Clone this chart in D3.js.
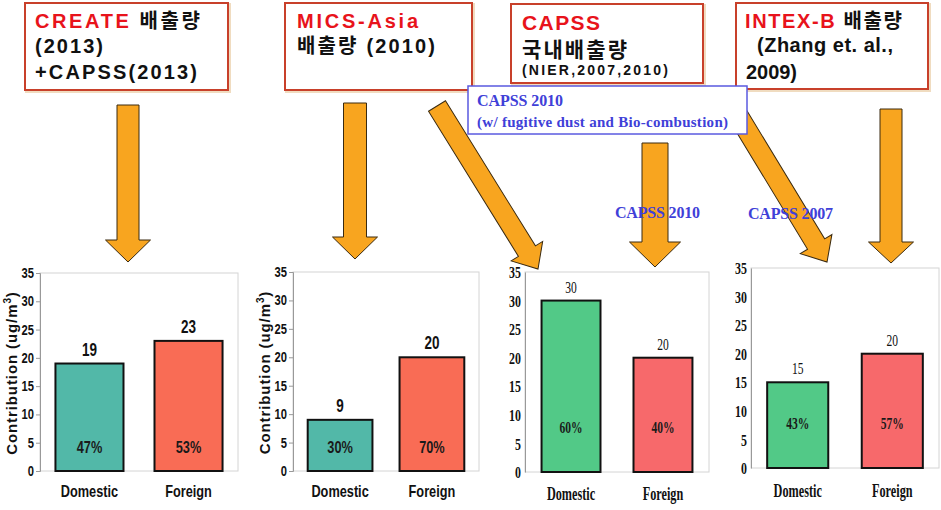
<!DOCTYPE html>
<html><head><meta charset="utf-8">
<script src="https://cdn.jsdelivr.net/npm/d3@7"></script>
<style>
html,body{margin:0;padding:0;background:#fff;}
svg{display:block;}
</style></head>
<body>
<svg id="c" width="941" height="510"></svg>
<script>
// ---------------- data ----------------
const categories = ["Domestic", "Foreign"];
const yTicks = [0, 5, 10, 15, 20, 25, 30, 35];
const createValues = [19, 23];
const createShares = ["47%", "53%"];
const micsValues = [9, 20];
const micsShares = ["30%", "70%"];
const capssValues = [30, 20];
const capssShares = ["60%", "40%"];
const intexValues = [15, 20];
const intexShares = ["43%", "57%"];
const yTitle = "Contribution (ug/m";

const svg = d3.select("#c");
const SANS = "'Liberation Sans', Arial, 'Noto Sans CJK KR', sans-serif";
const SERIF = "'Liberation Serif', 'Times New Roman', serif";

// ---------------- arrows ----------------
function arrow(x1, y1, x2, y2, sw, hw, hl) {
  const len = Math.hypot(x2 - x1, y2 - y1);
  const ang = Math.atan2(y2 - y1, x2 - x1) * 180 / Math.PI;
  const pts = [[0, -sw / 2], [len - hl, -sw / 2], [len - hl, -hw / 2], [len, 0],
               [len - hl, hw / 2], [len - hl, sw / 2], [0, sw / 2]];
  svg.append("polygon")
    .attr("points", pts.map(p => p.join(",")).join(" "))
    .attr("transform", `translate(${x1},${y1}) rotate(${ang})`)
    .attr("fill", "#f8a51f").attr("stroke", "#3a2a10").attr("stroke-width", 1);
}
arrow(128, 105, 128, 262, 22, 45, 22);
arrow(355, 103, 355, 259, 23, 45, 22);
arrow(437, 106, 538, 269, 20, 37, 21);
arrow(655, 143, 655, 267, 26, 51, 25);
arrow(736, 112, 827, 262, 20, 37, 21);
arrow(891, 109, 891, 263, 22, 45, 21);

// ---------------- title boxes ----------------
function box(x, y, w, h) {
  svg.append("rect").attr("x", x + 1).attr("y", y + 1).attr("width", w + 1).attr("height", h + 1)
    .attr("fill", "none").attr("stroke", "#f0dcc0").attr("stroke-width", 2);
  svg.append("rect").attr("x", x).attr("y", y).attr("width", w).attr("height", h)
    .attr("fill", "#fff").attr("stroke", "#c8402a").attr("stroke-width", 2);
}
function tline(x, y, parts, len, size) {
  const t = svg.append("text").attr("x", x).attr("y", y)
    .attr("font-family", SANS).attr("font-weight", "bold").attr("font-size", size || 20)
    .attr("textLength", len);
  parts.forEach(p => t.append("tspan").attr("fill", p[1] || "#111").text(p[0]));
}
const RED = "#e8131b";
box(25, 3, 203, 87);
tline(35, 28, [["CREATE", RED], [" 배출량"]], 165);
tline(35, 53, [["(2013)"]], 68);
tline(35, 79, [["+CAPSS(2013)"]], 162);

box(285, 3, 187, 87);
tline(297, 28, [["MICS-Asia", RED]], 121);
tline(297, 53, [["배출량 (2010)"]], 138);

box(511, 4, 192, 79);
tline(522, 30, [["CAPSS", RED]], 78, 21);
tline(522, 57, [["국내배출량"]], 105, 21);
tline(522, 75, [["(NIER,2007,2010)"]], 146, 14);

box(736, 3, 192, 86);
tline(745, 28, [["INTEX-B", RED], [" 배출량"]], 157);
tline(757, 52, [["(Zhang et. al.,"]], 136);
tline(746, 79, [["2009)"]], 51);

// blue note box
const BLUE = "#4040d8";
svg.append("rect").attr("x", 468).attr("y", 86).attr("width", 279).attr("height", 48)
  .attr("fill", "#fff").attr("stroke", "#5a5ae0").attr("stroke-width", 1.5);
svg.append("text").attr("x", 477).attr("y", 106).attr("font-family", SERIF).attr("font-weight", "bold")
  .attr("font-size", 16).attr("fill", BLUE).attr("textLength", 86).text("CAPSS 2010");
svg.append("text").attr("x", 477).attr("y", 127).attr("font-family", SERIF).attr("font-weight", "bold")
  .attr("font-size", 15).attr("fill", BLUE).attr("textLength", 251).text("(w/ fugitive dust and Bio-combustion)");

svg.append("text").attr("x", 615).attr("y", 218).attr("font-family", SERIF).attr("font-weight", "bold")
  .attr("font-size", 16).attr("fill", BLUE).attr("textLength", 85).text("CAPSS 2010");
svg.append("text").attr("x", 748).attr("y", 219).attr("font-family", SERIF).attr("font-weight", "bold")
  .attr("font-size", 16).attr("fill", BLUE).attr("textLength", 85).text("CAPSS 2007");

// ---------------- panels ----------------
function label(g, x, y, txt, o) {
  return g.append("text").attr("transform", `translate(${x},${y}) scale(${o.sx},1)`)
    .attr("text-anchor", o.anchor || "middle").attr("font-family", o.family)
    .attr("font-weight", o.weight || "bold").attr("font-size", o.size).attr("fill", o.fill || "#111")
    .text(txt);
}

function panel(cfg) {
  const g = svg.append("g");
  const y = d3.scaleLinear().domain([0, 35]).range([cfg.bottom, cfg.top]);
  const x = d3.scaleBand().domain(categories).range([cfg.left, cfg.right])
    .paddingInner(cfg.pi).paddingOuter(cfg.po);
  // frame
  g.append("rect").attr("x", cfg.left).attr("y", cfg.top).attr("width", cfg.right - cfg.left)
    .attr("height", cfg.bottom - cfg.top).attr("fill", "none").attr("stroke", "#d4d4d4").attr("stroke-width", 1);
  // axis
  const ax = g.append("g").attr("transform", `translate(${cfg.left},0)`)
    .call(d3.axisLeft(y).tickValues(yTicks).tickSize(cfg.tick).tickPadding(3).tickFormat(d3.format("d")));
  ax.select(".domain").attr("stroke", "#999");
  ax.selectAll(".tick line").attr("stroke", "#999");
  ax.selectAll(".tick text").remove();
  yTicks.forEach(v => label(g, cfg.left - cfg.tick - cfg.tickGap, y(v) + cfg.tickSize * 0.36, String(v),
    { sx: cfg.tsx, size: cfg.tickSize, family: cfg.family, anchor: "end" }));
  // bars
  g.selectAll("rect.bar").data(cfg.values).join("rect").attr("class", "bar")
    .attr("x", (d, i) => x(categories[i])).attr("width", x.bandwidth())
    .attr("y", d => y(d)).attr("height", d => y(0) - y(d))
    .attr("fill", (d, i) => cfg.colors[i]).attr("stroke", "#111").attr("stroke-width", 2);
  cfg.values.forEach((v, i) => {
    const cx = x(categories[i]) + x.bandwidth() / 2;
    label(g, cx, y(v) - 8, String(v), { sx: cfg.sx, size: cfg.valSize, family: cfg.family, weight: cfg.valWeight });
    label(g, cx, cfg.bottom - cfg.pctOff, cfg.shares[i], { sx: cfg.sx, size: cfg.pctSize, family: cfg.family, fill: "#1a1a1a" });
    label(g, cx, cfg.catY, categories[i], { sx: cfg.sx, size: cfg.catSize, family: cfg.family });
  });
  if (cfg.ytitleX) {
    const t = g.append("text").attr("transform", `translate(${cfg.ytitleX},${(cfg.top + cfg.bottom) / 2 + 1}) rotate(-90)`)
      .attr("text-anchor", "middle").attr("font-family", SANS).attr("font-weight", "bold")
      .attr("font-size", 15).attr("letter-spacing", 0.9).attr("fill", "#111");
    t.append("tspan").text(yTitle);
    t.append("tspan").attr("font-size", 10).attr("dy", -6).text("3");
    t.append("tspan").attr("dy", 6).text(")");
  }
}

const sansCfg = { family: SANS, sx: 0.75, tsx: 0.8, tick: 4, tickGap: 2, tickSize: 14, valSize: 18, valWeight: "bold", pctSize: 17, pctOff: 18, catSize: 17, catY: 497 };
const serifCfg = { family: SERIF, sx: 0.68, tsx: 0.7, tick: 0, tickGap: 4, tickSize: 17, valSize: 17, valWeight: "normal", pctSize: 17, pctOff: 39, catSize: 18 };

panel(Object.assign({}, sansCfg, { left: 40, right: 238, top: 273, bottom: 471, pi: 0.313, po: 0.156,
  values: createValues, shares: createShares, colors: ["#52b8a8", "#f96c55"], ytitleX: 17 }));
panel(Object.assign({}, sansCfg, { left: 293, right: 479, top: 272, bottom: 471, pi: 0.295, po: 0.16,
  values: micsValues, shares: micsShares, colors: ["#52b8a8", "#f96c55"], ytitleX: 270 }));
panel(Object.assign({}, serifCfg, { left: 525, right: 709, top: 272, bottom: 472, pi: 0.359, po: 0.18, catY: 500,
  values: capssValues, shares: capssShares, colors: ["#52c987", "#f7696b"] }));
panel(Object.assign({}, serifCfg, { left: 751, right: 939, top: 268, bottom: 468, pi: 0.354, po: 0.171, catY: 497,
  values: intexValues, shares: intexShares, colors: ["#52c987", "#f7696b"] }));
</script>
</body></html>
